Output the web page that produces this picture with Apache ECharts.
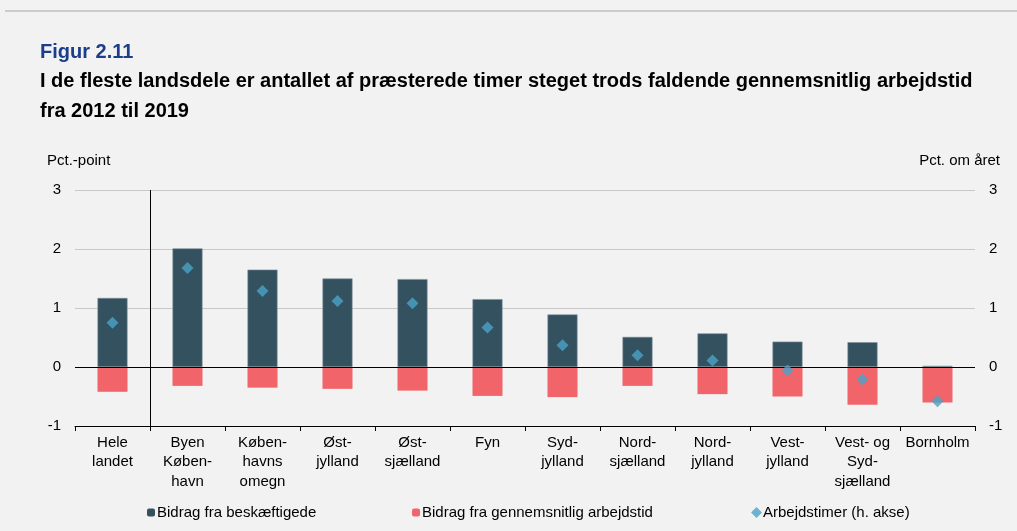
<!DOCTYPE html>
<html>
<head>
<meta charset="utf-8">
<script src="https://cdn.jsdelivr.net/npm/echarts@6/dist/echarts.min.js"></script>
<style>
  html, body { margin: 0; padding: 0; background: #f2f2f2; }
  #chart { width: 1017px; height: 531px; }
</style>
</head>
<body>
<div id="chart"></div>
<script>
// Landsdele
const categories = [
  'Hele\nlandet', 'Byen\nKøben-\nhavn', 'Køben-\nhavns\nomegn', 'Øst-\njylland',
  'Øst-\nsjælland', 'Fyn', 'Syd-\njylland', 'Nord-\nsjælland', 'Nord-\njylland',
  'Vest-\njylland', 'Vest- og\nSyd-\nsjælland', 'Bornholm'
];
// Bidrag fra beskæftigede (pct.-point)
const employed = [1.17, 2.01, 1.65, 1.50, 1.49, 1.15, 0.89, 0.51, 0.57, 0.43, 0.42, 0.02];
// Bidrag fra gennemsnitlig arbejdstid (pct.-point)
const avgHours = [-0.42, -0.32, -0.35, -0.37, -0.40, -0.49, -0.51, -0.32, -0.46, -0.50, -0.64, -0.60];
// Arbejdstimer (pct. om året, h. akse)
const hours = [0.75, 1.68, 1.29, 1.12, 1.08, 0.67, 0.37, 0.20, 0.11, -0.06, -0.21, -0.58];

const chart = echarts.init(document.getElementById('chart'));
const font = 'Liberation Sans, Arial, sans-serif';
const fs = 15;

const option = {
  backgroundColor: '#f2f2f2',
  textStyle: { fontFamily: font },
  graphic: [
    { type: 'line', shape: { x1: 5, y1: 11, x2: 1017, y2: 11 }, style: { stroke: '#a6a6a6', lineWidth: 1 } }
  ],
  title: [
    { text: 'Figur 2.11', left: 35, top: 37,
      textStyle: { color: '#1b3e8a', fontSize: 20, fontWeight: 'bold', fontFamily: font } },
    { text: 'I de fleste landsdele er antallet af præsterede timer steget trods faldende gennemsnitlig arbejdstid\nfra 2012 til 2019',
      left: 35, top: 61,
      textStyle: { color: '#000', fontSize: 20, fontWeight: 'bold', lineHeight: 30, fontFamily: font } }
  ],
  legend: [
    { data: ['Bidrag fra beskæftigede'], left: 142, top: 500, itemWidth: 8, itemHeight: 8, itemGap: 4,
      itemStyle: { borderWidth: 0 },
      textStyle: { fontSize: fs, color: '#000', padding: [0, 0, 0, -3] } },
    { data: ['Bidrag fra gennemsnitlig arbejdstid'], left: 407, top: 500, itemWidth: 8, itemHeight: 8,
      itemStyle: { borderWidth: 0 },
      textStyle: { fontSize: fs, color: '#000', padding: [0, 0, 0, -3] } },
    { data: [{ name: 'Arbejdstimer (h. akse)', icon: 'diamond' }], left: 746, top: 500, itemWidth: 11, itemHeight: 11,
      textStyle: { fontSize: fs, color: '#000', padding: [0, 0, 0, -4] } }
  ],
  grid: { left: 75, right: 42, top: 190, bottom: 105 },
  xAxis: [
    {
      type: 'category',
      data: categories,
      axisLine: { onZero: false, lineStyle: { color: '#000', width: 1 } },
      axisTick: { show: true, alignWithLabel: false, length: 5, lineStyle: { color: '#000' } },
      axisLabel: { color: '#000', fontSize: fs, lineHeight: 19.5, margin: 7, interval: 0 }
    },
    { type: 'value', min: 0, max: 12, show: false }
  ],
  yAxis: [
    {
      type: 'value', min: -1, max: 3, interval: 1,
      name: 'Pct.-point', nameLocation: 'end', nameGap: 22,
      nameTextStyle: { color: '#000', fontSize: fs, align: 'left', padding: [0, 0, 0, -28] },
      axisLine: { show: false }, axisTick: { show: false },
      axisLabel: { color: '#000', fontSize: fs, margin: 14 },
      splitLine: { lineStyle: { color: '#c8c8c8', width: 1 } }
    },
    {
      type: 'value', min: -1, max: 3, interval: 1, position: 'right',
      name: 'Pct. om året', nameLocation: 'end', nameGap: 22,
      nameTextStyle: { color: '#000', fontSize: fs, align: 'right', padding: [0, -25, 0, 0] },
      axisLine: { show: false }, axisTick: { show: false },
      axisLabel: { color: '#000', fontSize: fs, margin: 14 },
      splitLine: { show: false }
    }
  ],
  series: [
    {
      name: 'Bidrag fra beskæftigede', type: 'bar', stack: 'b', barWidth: 30,
      data: employed,
      itemStyle: { color: '#34515f', borderColor: '#7d8f99', borderWidth: 0.6 },
      markLine: {
        silent: true, symbol: 'none', label: { show: false },
        lineStyle: { color: '#000', width: 1, type: 'solid' },
        data: [{ yAxis: 0 }]
      },
      z: 2
    },
    {
      name: 'Bidrag fra gennemsnitlig arbejdstid', type: 'bar', stack: 'b', barWidth: 30,
      data: avgHours,
      itemStyle: { color: '#f0646a' },
      z: 2
    },
    {
      name: 'Arbejdstimer (h. akse)', type: 'scatter', yAxisIndex: 1,
      symbol: 'diamond', symbolSize: [12, 12],
      data: hours,
      itemStyle: { color: '#4aa3c8' },
      z: 5
    },
    {
      name: 'separator', type: 'line', xAxisIndex: 1, yAxisIndex: 0,
      data: [], silent: true,
      markLine: {
        silent: true, symbol: 'none', label: { show: false },
        lineStyle: { color: '#000', width: 1, type: 'solid' },
        data: [{ xAxis: 1 }]
      }
    }
  ]
};

chart.setOption(option);
</script>
</body>
</html>
